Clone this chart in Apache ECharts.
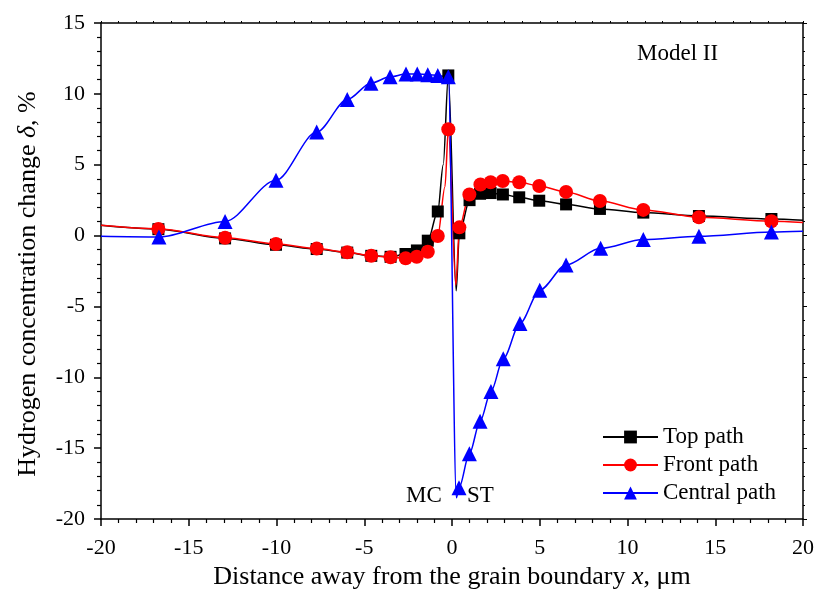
<!DOCTYPE html>
<html><head><meta charset="utf-8">
<script src="https://cdn.jsdelivr.net/npm/echarts@6/dist/echarts.min.js"></script>
<style>html,body{margin:0;padding:0;background:#fff}#c{width:816px;height:590px}</style>
</head><body><div id="c"></div>
<script>
// ---- data ----
const xTicks = [-20, -15, -10, -5, 0, 5, 10, 15, 20];
const yTicks = [-20, -15, -10, -5, 0, 5, 10, 15];

// Top path: marked points
const topMarkers = [
  [-16.73, 0.45], [-12.93, -0.2], [-10.03, -0.65], [-7.71, -0.95], [-5.97, -1.2],
  [-4.6, -1.43], [-3.5, -1.5], [-2.65, -1.3], [-2.0, -1.05], [-1.38, -0.36],
  [-0.81, 1.7], [-0.21, 11.3], [0.42, 0.16], [1.0, 2.5], [1.6, 2.95], [2.2, 3.0],
  [2.9, 2.9], [3.83, 2.7], [4.97, 2.46], [6.5, 2.2], [8.43, 1.88], [10.9, 1.62],
  [14.07, 1.38], [18.2, 1.17]
];
// Top path: curve points without markers
const topCurveOnly = [[-20, 0.72], [-0.5, 5.0], [0.24, -3.9], [20, 1.08]];

// Front path
const frontMarkers = [
  [-16.73, 0.47], [-12.93, -0.15], [-10.03, -0.59], [-7.71, -0.92], [-5.97, -1.18],
  [-4.6, -1.43], [-3.5, -1.53], [-2.64, -1.6], [-2.01, -1.49], [-1.38, -1.14],
  [-0.81, -0.03], [-0.21, 7.5], [0.42, 0.58], [0.99, 2.9], [1.62, 3.6], [2.2, 3.76],
  [2.89, 3.85], [3.83, 3.76], [4.97, 3.5], [6.5, 3.08], [8.43, 2.44], [10.9, 1.81],
  [14.07, 1.29], [18.2, 1.01]
];
const frontCurveOnly = [[-20, 0.72], [-0.4, 3.45], [0.22, -3.5], [20, 0.92]];

// Central path
const centralMarkers = [
  [-16.7, -0.1], [-12.93, 1.0], [-10.03, 3.9], [-7.71, 7.3], [-5.97, 9.6],
  [-4.62, 10.75], [-3.53, 11.2], [-2.62, 11.4], [-1.98, 11.4], [-1.38, 11.35],
  [-0.81, 11.3], [-0.21, 11.2], [0.4, -17.8], [0.99, -15.4], [1.6, -13.1],
  [2.22, -11.0], [2.92, -8.7], [3.87, -6.2], [5.0, -3.85], [6.5, -2.07],
  [8.47, -0.9], [10.9, -0.28], [14.07, -0.05], [18.2, 0.25]
];
const centralCurveOnly = [[-20, -0.05], [0.25, -18.5], [20, 0.3]];

const seriesNames = ['Top path', 'Front path', 'Central path'];
const annotations = ['Model II', 'MC', 'ST'];

// ---- build ----
function build(markers, extra) {
  const pts = markers.map(p => ({ value: p }))
    .concat(extra.map(p => ({ value: p, symbol: 'none' })));
  pts.sort((a, b) => a.value[0] - b.value[0]);
  return pts;
}
const FONT = 'Liberation Serif';
const axisCommon = {
  type: 'value',
  splitLine: { show: false },
  axisLine: { onZero: false, lineStyle: { color: '#000', width: 1.5 } },
  axisTick: { inside: false, length: 7, lineStyle: { color: '#000', width: 1.5 } },
  minorTick: { show: true, splitNumber: 5, length: 4, lineStyle: { color: '#000', width: 1.2 } },
};
const chart = echarts.init(document.getElementById('c'), null, { renderer: 'canvas' });
const lineSeries = (name, color, symbol, size, data) => ({
  name, type: 'line', data, smooth: 0.3, smoothMonotone: 'x',
  symbol, symbolSize: size, showSymbol: true, showAllSymbol: true,
  lineStyle: { color, width: 1.5 }, itemStyle: { color },
  emphasis: { disabled: true }, animation: false
});
chart.setOption({
  animation: false,
  backgroundColor: '#fff',
  grid: { left: 101, right: 13, top: 23, bottom: 71, containLabel: false, outerBoundsMode: 'none' },
  legend: {
    data: seriesNames, orient: 'vertical', left: 597, top: 420,
    itemWidth: 55, itemHeight: 16, itemGap: 4,
    textStyle: { fontFamily: FONT, fontSize: 23, color: '#000', lineHeight: 24 }
  },
  xAxis: [
    Object.assign({}, axisCommon, {
      min: xTicks[0], max: xTicks[xTicks.length - 1], interval: 5, position: 'bottom',
      axisLabel: { fontFamily: FONT, fontSize: 22, color: '#000', margin: 18 },
      name: '{a|Distance away from the grain boundary }{i|x}{a|, μm}',
      nameLocation: 'middle', nameGap: 39,
      nameTextStyle: { rich: {
        a: { fontFamily: FONT, fontSize: 26, color: '#000' },
        i: { fontFamily: FONT, fontSize: 26, color: '#000', fontStyle: 'italic' } } }
    }),
    Object.assign({}, axisCommon, {
      min: xTicks[0], max: xTicks[xTicks.length - 1], interval: 5, position: 'top',
      axisLabel: { show: false },
      axisTick: { inside: false, length: 2, lineStyle: { color: '#000', width: 1 } },
      minorTick: { show: true, splitNumber: 5, length: 2, lineStyle: { color: '#000', width: 1 } }
    })
  ],
  yAxis: [
    Object.assign({}, axisCommon, {
      min: yTicks[0], max: yTicks[yTicks.length - 1], interval: 5, position: 'left',
      axisLabel: { fontFamily: FONT, fontSize: 22, color: '#000', margin: 16 },
      name: '{a|Hydrogen concentration change }{i|δ}{a|, %}',
      nameLocation: 'middle', nameGap: 60, nameRotate: 90,
      nameTextStyle: { padding: [0, 26, 0, 0], rich: {
        a: { fontFamily: FONT, fontSize: 26, color: '#000' },
        i: { fontFamily: FONT, fontSize: 26, color: '#000', fontStyle: 'italic' } } }
    }),
    Object.assign({}, axisCommon, {
      min: yTicks[0], max: yTicks[yTicks.length - 1], interval: 5, position: 'right',
      axisLabel: { show: false },
      axisTick: { inside: false, length: 4, lineStyle: { color: '#000', width: 1 } },
      minorTick: { show: true, splitNumber: 5, length: 2, lineStyle: { color: '#000', width: 1 } }
    })
  ],
  series: [
    lineSeries(seriesNames[0], '#000000', 'rect', 12, build(topMarkers, topCurveOnly)),
    lineSeries(seriesNames[1], '#ff0000', 'circle', 14, build(frontMarkers, frontCurveOnly)),
    lineSeries(seriesNames[2], '#0000ff', 'triangle', 15, build(centralMarkers, centralCurveOnly))
  ],
  graphic: [
    { type: 'text', left: 637, top: 42, style: { text: annotations[0], fontFamily: FONT, fontSize: 23, fill: '#000' } },
    { type: 'text', left: 406, top: 484, style: { text: annotations[1], fontFamily: FONT, fontSize: 23, fill: '#000' } },
    { type: 'text', left: 467, top: 484, style: { text: annotations[2], fontFamily: FONT, fontSize: 23, fill: '#000' } }
  ]
});
</script></body></html>
